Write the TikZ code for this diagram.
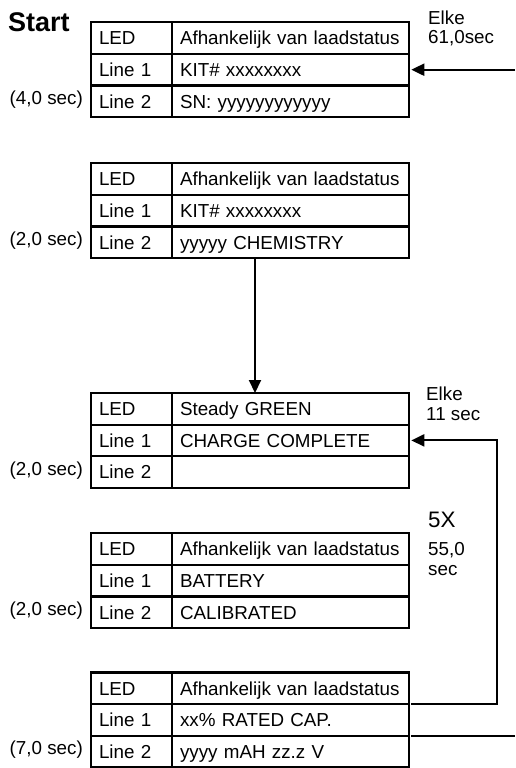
\documentclass[tikz,border=0pt]{standalone}
\usepackage{fontspec}
\setmainfont{Liberation Sans}
\usetikzlibrary{arrows.meta}
\tikzset{
  base/.style={font=\fontsize{18.8}{22}\selectfont},
  cellL/.style={draw, line width=2.1pt, outer sep=0pt, text width=65pt, inner xsep=8pt, inner ysep=0pt,
    minimum height=31.6pt, align=left, text height=13.6pt, text depth=0pt, anchor=north west, base},
  cellR/.style={cellL, text width=221.3pt},
  side/.style={base, anchor=base east, inner sep=0pt},
  note/.style={base, anchor=base west, inner sep=0pt},
  arr/.style={line width=2.1pt, line join=miter, -{Triangle[length=13pt,width=12pt]}, shorten >=2pt},
  plain/.style={line width=2.1pt, line join=miter}
}
\newcommand\mktable[5]{%
  \node[cellL] (#1l1) at (91,#2) {LED};
  \node[cellR] (#1r1) at (#1l1.north east) {#3};
  \node[cellL] (#1l2) at (#1l1.south west) {Line 1};
  \node[cellR] (#1r2) at (#1l2.north east) {#4};
  \node[cellL] (#1l3) at (#1l2.south west) {Line 2};
  \node[cellR] (#1r3) at (#1l3.north east) {#5};
}
\begin{document}
\begin{tikzpicture}[x=1pt,y=-1pt]
\useasboundingbox (0,0) rectangle (515,768);

\mktable{ta}{22.3}{Afhankelijk van laadstatus}{KIT\# xxxxxxxx}{SN: yyyyyyyyyyyy}
\mktable{tb}{163.3}{Afhankelijk van laadstatus}{KIT\# xxxxxxxx}{yyyyy CHEMISTRY}
\mktable{tc}{393}{Steady GREEN}{CHARGE COMPLETE}{}
\mktable{td}{533.3}{Afhankelijk van laadstatus}{BATTERY}{CALIBRATED}
\mktable{te}{672.5}{Afhankelijk van laadstatus}{xx\% RATED CAP.}{yyyy mAH zz.z V}

\node[anchor=base west, inner sep=0pt, font=\fontsize{27}{30}\selectfont\bfseries] (start) at (8,32) {Start};

\node[side] (sa) at (83,104.3) {(4,0 sec)};
\node[side] (sb) at (83,245.3) {(2,0 sec)};
\node[side] (sc) at (83,475) {(2,0 sec)};
\node[side] (sd) at (83,615.3) {(2,0 sec)};
\node[side] (se) at (83,754.5) {(7,0 sec)};

\node[note] (ea1) at (428,25) {Elke};
\node[note] (ea2) at (428,44) {61,0sec};
\node[note] (ec1) at (426,400) {Elke};
\node[note] (ec2) at (426,420) {11 sec};
\node[anchor=base west, inner sep=0pt, font=\fontsize{22.4}{26}\selectfont] (fx) at (428,527) {5X};
\node[note] (fx2) at (428,555) {55,0};
\node[note] (fx3) at (428,575) {sec};

% connectors
\coordinate (inA) at (515,0);
\draw[arr] (inA |- tar2.east) -- (tar2.east);
\coordinate (dx) at (255,0);
\draw[arr, shorten >=0pt] (dx |- tbr3.south) -- (dx |- tcr1.north);
\coordinate (lp) at (497,0);
\draw[arr] ([xshift=2pt]ter1.south east) -- (lp |- ter1.south east) -- (lp |- tcr2.east) -- (tcr2.east);
\coordinate (outE) at (515,0);
\draw[plain] ([xshift=2pt]ter2.south east) -- (outE |- ter2.south east);
\end{tikzpicture}
\end{document}
